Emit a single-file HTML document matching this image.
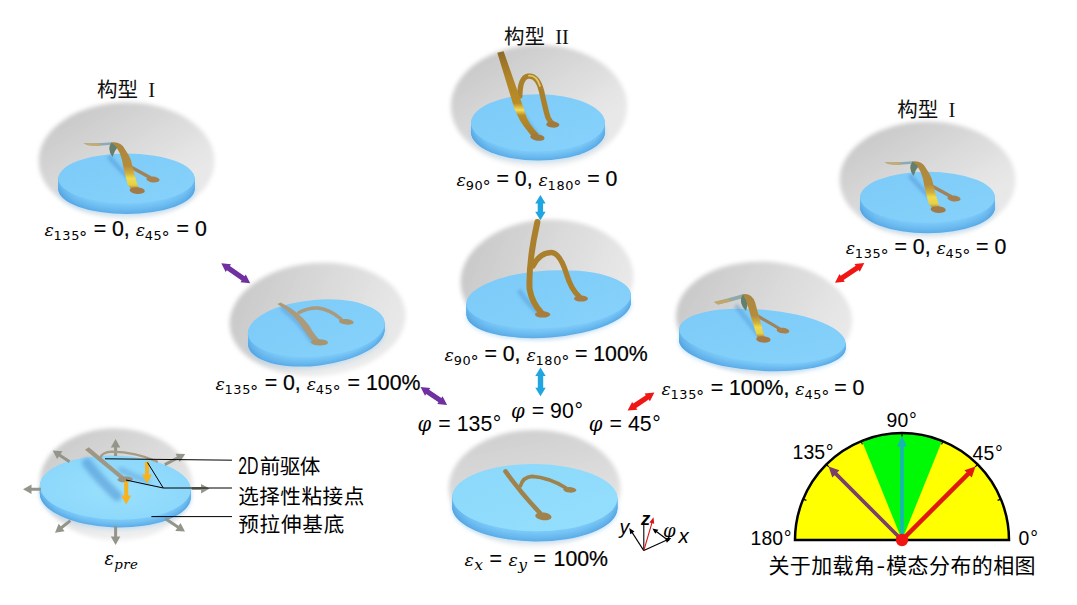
<!DOCTYPE html>
<html lang="zh">
<head>
<meta charset="utf-8">
<title>构型相图</title>
<style>
html,body{margin:0;padding:0;background:#fff;}
body{width:1077px;height:605px;overflow:hidden;}
svg{display:block;}
</style>
</head>
<body>
<svg width="1077" height="605" viewBox="0 0 1077 605">
<rect width="1077" height="605" fill="#fff"/>

<defs>
  <filter id="soft" x="-20%" y="-20%" width="140%" height="140%"><feGaussianBlur stdDeviation="1.9"/></filter>
  <filter id="b2" x="-40%" y="-40%" width="180%" height="180%"><feGaussianBlur stdDeviation="2.2"/></filter>
  <filter id="b1" x="-30%" y="-30%" width="160%" height="160%"><feGaussianBlur stdDeviation="1.5"/></filter>
  <filter id="b05" x="-30%" y="-30%" width="160%" height="160%"><feGaussianBlur stdDeviation="0.45"/></filter>
  <linearGradient id="gbg" x1="0" y1="0" x2="0.7" y2="0.78">
    <stop offset="0" stop-color="#c2c2c2"/><stop offset="0.5" stop-color="#d6d6d6"/><stop offset="0.85" stop-color="#e4e4e4"/><stop offset="1" stop-color="#e8e8e8"/>
  </linearGradient>
  <linearGradient id="gbgH" x1="0" y1="0.3" x2="0.95" y2="0.6">
    <stop offset="0" stop-color="#c8c8c8"/><stop offset="0.5" stop-color="#d9d9d9"/><stop offset="0.85" stop-color="#e4e4e4"/><stop offset="1" stop-color="#e8e8e8"/>
  </linearGradient>
  <linearGradient id="gbgV" x1="0.2" y1="0" x2="0.45" y2="0.9">
    <stop offset="0" stop-color="#cecece"/><stop offset="0.5" stop-color="#dadada"/><stop offset="1" stop-color="#e8e8e8"/>
  </linearGradient>
  <linearGradient id="gbgL" x1="0" y1="0" x2="0.8" y2="0.8">
    <stop offset="0" stop-color="#c6c6c6"/><stop offset="0.5" stop-color="#d8d8d8"/><stop offset="1" stop-color="#e8e8e8"/>
  </linearGradient>
  <linearGradient id="gfade" x1="0" y1="0" x2="0" y2="1">
    <stop offset="0" stop-color="#fff" stop-opacity="0"/><stop offset="0.75" stop-color="#fff" stop-opacity="0"/><stop offset="0.92" stop-color="#fff" stop-opacity="0.25"/><stop offset="1" stop-color="#fff" stop-opacity="0.5"/>
  </linearGradient>
  <radialGradient id="vig" cx="0.55" cy="0.55" r="0.5">
    <stop offset="0" stop-color="#000" stop-opacity="0"/><stop offset="0.8" stop-color="#000" stop-opacity="0"/><stop offset="1" stop-color="#000" stop-opacity="0.02"/>
  </radialGradient>
  <linearGradient id="sideshade" x1="0" y1="0" x2="1" y2="0">
    <stop offset="0" stop-color="#3f8fd6" stop-opacity="0.35"/><stop offset="0.12" stop-color="#3f8fd6" stop-opacity="0.1"/><stop offset="0.3" stop-color="#3f8fd6" stop-opacity="0"/><stop offset="0.75" stop-color="#3f8fd6" stop-opacity="0"/><stop offset="0.93" stop-color="#3f8fd6" stop-opacity="0.1"/><stop offset="1" stop-color="#3f8fd6" stop-opacity="0.3"/>
  </linearGradient>
  <linearGradient id="top" x1="0" y1="0" x2="1" y2="1">
    <stop offset="0" stop-color="#7ccaf8"/><stop offset="1" stop-color="#86d2fb"/>
  </linearGradient>
  <linearGradient id="top2" x1="0" y1="0" x2="1" y2="1">
    <stop offset="0" stop-color="#8ad8fb"/><stop offset="1" stop-color="#96dffd"/>
  </linearGradient>
  <radialGradient id="top3" cx="0.5" cy="0.55" r="0.6">
    <stop offset="0" stop-color="#9ae0fd"/><stop offset="1" stop-color="#8ad6fb"/>
  </radialGradient>
  <linearGradient id="gold" x1="0" y1="0" x2="0" y2="1">
    <stop offset="0" stop-color="#a98642"/><stop offset="0.5" stop-color="#b48c3a"/><stop offset="0.66" stop-color="#d2b040"/><stop offset="0.76" stop-color="#eedc4c"/><stop offset="0.9" stop-color="#e6cf48"/><stop offset="1" stop-color="#a07a40"/>
  </linearGradient>
  <linearGradient id="gold2" x1="0" y1="0" x2="0" y2="1">
    <stop offset="0" stop-color="#8e6a28"/><stop offset="0.3" stop-color="#b08428"/><stop offset="0.6" stop-color="#b98c26"/><stop offset="0.68" stop-color="#f5dd55"/><stop offset="0.74" stop-color="#b98c26"/><stop offset="1" stop-color="#a37a2a"/>
  </linearGradient>
</defs>

<g transform="translate(0 0)">
<g filter="url(#soft)"><g><ellipse cx="126.6" cy="161" rx="87.9" ry="58.5" fill="url(#gbg)"/><ellipse cx="126.6" cy="161" rx="87.9" ry="58.5" fill="url(#gfade)"/></g></g>
<g>
<ellipse cx="126.5" cy="190.20" rx="68.7" ry="25.5" fill="#9fd2f5" fill-opacity="0.55" filter="url(#b2)" transform="rotate(0.00 126.5 189.00)"/>
<ellipse cx="126.5" cy="189.00" rx="68.2" ry="25" fill="#5cace8" transform="rotate(0.00 126.5 189.00)"/>
<ellipse cx="126.5" cy="188.25" rx="68.2" ry="25" fill="#60b0ea" transform="rotate(0.00 126.5 188.25)"/>
<ellipse cx="126.5" cy="187.50" rx="68.2" ry="25" fill="#63b3ec" transform="rotate(0.00 126.5 187.50)"/>
<ellipse cx="126.5" cy="186.75" rx="68.2" ry="25" fill="#66b5ed" transform="rotate(0.00 126.5 186.75)"/>
<ellipse cx="126.5" cy="186.00" rx="68.2" ry="25" fill="#68b8ee" transform="rotate(0.00 126.5 186.00)"/>
<ellipse cx="126.5" cy="185.25" rx="68.2" ry="25" fill="#6bbaef" transform="rotate(0.00 126.5 185.25)"/>
<ellipse cx="126.5" cy="184.50" rx="68.2" ry="25" fill="#6dbcf1" transform="rotate(0.00 126.5 184.50)"/>
<ellipse cx="126.5" cy="183.75" rx="68.2" ry="25" fill="#70bef2" transform="rotate(0.00 126.5 183.75)"/>
<ellipse cx="126.5" cy="183.00" rx="68.2" ry="25" fill="#72c0f3" transform="rotate(0.00 126.5 183.00)"/>
<ellipse cx="126.5" cy="182.25" rx="68.2" ry="25" fill="#74c2f4" transform="rotate(0.00 126.5 182.25)"/>
<ellipse cx="126.5" cy="181.50" rx="68.2" ry="25" fill="#76c4f5" transform="rotate(0.00 126.5 181.50)"/>
<ellipse cx="126.5" cy="180.75" rx="68.2" ry="25" fill="#78c6f6" transform="rotate(0.00 126.5 180.75)"/>
<ellipse cx="126.5" cy="180.00" rx="68.2" ry="25" fill="#7ac8f7" transform="rotate(0.00 126.5 180.00)"/>
<ellipse cx="126.5" cy="179.25" rx="68.2" ry="25" fill="#7ccaf8" transform="rotate(0.00 126.5 179.25)"/>
<polygon points="58.3,178.5 58.3,189.0 58.6,191.2 59.3,193.3 60.6,195.5 62.4,197.6 64.7,199.6 67.4,201.5 70.6,203.3 74.3,205.1 78.3,206.7 82.7,208.2 87.4,209.5 92.4,210.7 97.7,211.7 103.2,212.5 108.8,213.1 114.7,213.6 120.6,213.9 126.5,214.0 132.4,213.9 138.3,213.6 144.2,213.1 149.8,212.5 155.3,211.7 160.6,210.7 165.6,209.5 170.3,208.2 174.7,206.7 178.7,205.1 182.4,203.3 185.6,201.5 188.3,199.6 190.6,197.6 192.4,195.5 193.7,193.3 194.4,191.2 194.7,189.0 194.7,178.5" fill="url(#sideshade)"/>
<ellipse cx="126.5" cy="178.5" rx="68.2" ry="25" fill="url(#top)"/>
</g>
<path d="M110,158 Q120,170 131,180" stroke="#4a8fd0" stroke-opacity="0.45" stroke-width="5" fill="none" stroke-linecap="round" filter="url(#b1)"/>
<path d="M129,166 Q140,172 150,177.5" fill="none" stroke="#a08358" stroke-width="3.4" stroke-linecap="round" stroke-linejoin="round" />
<ellipse cx="153" cy="179.5" rx="6.6" ry="3" fill="#a6804e" transform="rotate(6 153 179.5)"/>
<path d="M83.5,143 Q98,143.6 112,142.2 L114,144.6 Q98,146.6 87,145 Z" fill="#8da9b4"/>
<path d="M83.5,143 Q92,143.8 100,143.5 L100,146 Q92,146.2 87,145 Z" fill="#c8ab6c"/>
<path d="M111.5,142.6 Q106.5,149 112.5,157 Q114,151 118.5,146 Z" fill="#627f70"/>
<path d="M111.5,142.4 Q121,141.4 124.8,149 Q129,155 130.9,160 L134.1,173 L137.4,184.7 L138.8,188 L131.5,189.6 L127.8,184.7 L124.6,173 L122,160 Q120,152 116,146.5 Z" fill="url(#gold)"/>
<ellipse cx="137.2" cy="190.6" rx="7.6" ry="3.4" fill="#a27a48" transform="rotate(4 137.2 190.6)"/>
</g>
<text x="97" y="97" font-family="'Liberation Sans','Noto Sans CJK SC',sans-serif" font-size="20.5" fill="#111" xml:space="preserve">构型 <tspan font-family="'Liberation Serif','Noto Serif CJK SC',serif" font-size="20.5" dx="4.5">I</tspan></text>
<text x="44.4" y="236.2" font-family="'Liberation Sans','Noto Sans CJK SC',sans-serif" font-size="21.3" fill="#000" stroke="#000" stroke-width="0.22" xml:space="preserve"><tspan font-family="'DejaVu Serif','Liberation Serif',serif" font-style="italic" font-size="17.4" stroke="none" dx="0">ε</tspan><tspan font-family="'DejaVu Sans','Liberation Sans',sans-serif" font-size="12.9" letter-spacing="0.65" stroke="none" dx="-0.3" dy="4.2">135</tspan><tspan font-family="'DejaVu Sans','Liberation Sans',sans-serif" font-size="16.5" stroke="none" dx="-0.9" dy="2.6">°</tspan><tspan dy="-6.8" dx="0.4"> = 0, </tspan><tspan font-family="'DejaVu Serif','Liberation Serif',serif" font-style="italic" font-size="17.4" stroke="none" dx="0">ε</tspan><tspan font-family="'DejaVu Sans','Liberation Sans',sans-serif" font-size="12.9" letter-spacing="0.65" stroke="none" dx="-0.3" dy="4.2">45</tspan><tspan font-family="'DejaVu Sans','Liberation Sans',sans-serif" font-size="16.5" stroke="none" dx="-0.9" dy="2.6">°</tspan><tspan dy="-6.8" dx="0.9"> = 0</tspan></text>
<g transform="translate(801 19)">
<g filter="url(#soft)"><g><ellipse cx="126.6" cy="161" rx="87.9" ry="58.5" fill="url(#gbg)"/><ellipse cx="126.6" cy="161" rx="87.9" ry="58.5" fill="url(#gfade)"/></g></g>
<g>
<ellipse cx="126.5" cy="189.90" rx="67.9" ry="26.0" fill="#9fd2f5" fill-opacity="0.55" filter="url(#b2)" transform="rotate(0.00 126.5 188.70)"/>
<ellipse cx="126.5" cy="188.70" rx="67.4" ry="25.5" fill="#5cace8" transform="rotate(0.00 126.5 188.70)"/>
<ellipse cx="126.5" cy="187.95" rx="67.4" ry="25.5" fill="#60b0ea" transform="rotate(0.00 126.5 187.95)"/>
<ellipse cx="126.5" cy="187.20" rx="67.4" ry="25.5" fill="#63b3ec" transform="rotate(0.00 126.5 187.20)"/>
<ellipse cx="126.5" cy="186.45" rx="67.4" ry="25.5" fill="#66b5ed" transform="rotate(0.00 126.5 186.45)"/>
<ellipse cx="126.5" cy="185.70" rx="67.4" ry="25.5" fill="#68b8ee" transform="rotate(0.00 126.5 185.70)"/>
<ellipse cx="126.5" cy="184.95" rx="67.4" ry="25.5" fill="#6bbaef" transform="rotate(0.00 126.5 184.95)"/>
<ellipse cx="126.5" cy="184.20" rx="67.4" ry="25.5" fill="#6dbcf1" transform="rotate(0.00 126.5 184.20)"/>
<ellipse cx="126.5" cy="183.45" rx="67.4" ry="25.5" fill="#70bef2" transform="rotate(0.00 126.5 183.45)"/>
<ellipse cx="126.5" cy="182.70" rx="67.4" ry="25.5" fill="#72c0f3" transform="rotate(0.00 126.5 182.70)"/>
<ellipse cx="126.5" cy="181.95" rx="67.4" ry="25.5" fill="#74c2f4" transform="rotate(0.00 126.5 181.95)"/>
<ellipse cx="126.5" cy="181.20" rx="67.4" ry="25.5" fill="#76c4f5" transform="rotate(0.00 126.5 181.20)"/>
<ellipse cx="126.5" cy="180.45" rx="67.4" ry="25.5" fill="#78c6f6" transform="rotate(0.00 126.5 180.45)"/>
<ellipse cx="126.5" cy="179.70" rx="67.4" ry="25.5" fill="#7ac8f7" transform="rotate(0.00 126.5 179.70)"/>
<ellipse cx="126.5" cy="178.95" rx="67.4" ry="25.5" fill="#7ccaf8" transform="rotate(0.00 126.5 178.95)"/>
<polygon points="59.1,178.2 59.1,188.7 59.4,190.9 60.1,193.1 61.4,195.3 63.2,197.4 65.4,199.5 68.1,201.4 71.3,203.3 74.9,205.1 78.8,206.7 83.2,208.2 87.8,209.6 92.8,210.8 98.0,211.8 103.4,212.7 109.1,213.3 114.8,213.8 120.6,214.1 126.5,214.2 132.4,214.1 138.2,213.8 143.9,213.3 149.6,212.7 155.0,211.8 160.2,210.8 165.2,209.6 169.8,208.2 174.2,206.7 178.1,205.1 181.7,203.3 184.9,201.4 187.6,199.5 189.8,197.4 191.6,195.3 192.9,193.1 193.6,190.9 193.9,188.7 193.9,178.2" fill="url(#sideshade)"/>
<ellipse cx="126.5" cy="178.2" rx="67.4" ry="25.5" fill="url(#top)"/>
</g>
<path d="M110,158 Q120,170 131,180" stroke="#4a8fd0" stroke-opacity="0.45" stroke-width="5" fill="none" stroke-linecap="round" filter="url(#b1)"/>
<path d="M129,166 Q140,172 150,177.5" fill="none" stroke="#a08358" stroke-width="3.4" stroke-linecap="round" stroke-linejoin="round" />
<ellipse cx="153" cy="179.5" rx="6.6" ry="3" fill="#a6804e" transform="rotate(6 153 179.5)"/>
<path d="M83.5,143 Q98,143.6 112,142.2 L114,144.6 Q98,146.6 87,145 Z" fill="#8da9b4"/>
<path d="M83.5,143 Q92,143.8 100,143.5 L100,146 Q92,146.2 87,145 Z" fill="#c8ab6c"/>
<path d="M111.5,142.6 Q106.5,149 112.5,157 Q114,151 118.5,146 Z" fill="#627f70"/>
<path d="M111.5,142.4 Q121,141.4 124.8,149 Q129,155 130.9,160 L134.1,173 L137.4,184.7 L138.8,188 L131.5,189.6 L127.8,184.7 L124.6,173 L122,160 Q120,152 116,146.5 Z" fill="url(#gold)"/>
<ellipse cx="137.2" cy="190.6" rx="7.6" ry="3.4" fill="#a27a48" transform="rotate(4 137.2 190.6)"/>
</g>
<text x="897.2" y="116.8" font-family="'Liberation Sans','Noto Sans CJK SC',sans-serif" font-size="20.5" fill="#111" xml:space="preserve">构型 <tspan font-family="'Liberation Serif','Noto Serif CJK SC',serif" font-size="20.5" dx="4.5">I</tspan></text>
<text x="845.8" y="254.2" font-family="'Liberation Sans','Noto Sans CJK SC',sans-serif" font-size="21.3" fill="#000" stroke="#000" stroke-width="0.22" xml:space="preserve"><tspan font-family="'DejaVu Serif','Liberation Serif',serif" font-style="italic" font-size="17.4" stroke="none" dx="0">ε</tspan><tspan font-family="'DejaVu Sans','Liberation Sans',sans-serif" font-size="12.9" letter-spacing="0.65" stroke="none" dx="-0.3" dy="4.2">135</tspan><tspan font-family="'DejaVu Sans','Liberation Sans',sans-serif" font-size="16.5" stroke="none" dx="-0.9" dy="2.6">°</tspan><tspan dy="-6.8" dx="-0.19999999999999996"> = 0, </tspan><tspan font-family="'DejaVu Serif','Liberation Serif',serif" font-style="italic" font-size="17.4" stroke="none" dx="0">ε</tspan><tspan font-family="'DejaVu Sans','Liberation Sans',sans-serif" font-size="12.9" letter-spacing="0.65" stroke="none" dx="-0.3" dy="4.2">45</tspan><tspan font-family="'DejaVu Sans','Liberation Sans',sans-serif" font-size="16.5" stroke="none" dx="-0.9" dy="2.6">°</tspan><tspan dy="-6.8" dx="-0.4"> = 0</tspan></text>
<g filter="url(#soft)"><g><ellipse cx="539" cy="106.2" rx="88.1" ry="61.3" fill="url(#gbg)"/><ellipse cx="539" cy="106.2" rx="88.1" ry="61.3" fill="url(#gfade)"/></g></g>
<g>
<ellipse cx="538" cy="133.20" rx="67.5" ry="29.0" fill="#9fd2f5" fill-opacity="0.55" filter="url(#b2)" transform="rotate(0.00 538 132.00)"/>
<ellipse cx="538" cy="132.00" rx="67" ry="28.5" fill="#5cace8" transform="rotate(0.00 538 132.00)"/>
<ellipse cx="538" cy="131.23" rx="67" ry="28.5" fill="#61b0ea" transform="rotate(0.00 538 131.23)"/>
<ellipse cx="538" cy="130.47" rx="67" ry="28.5" fill="#64b4ec" transform="rotate(0.00 538 130.47)"/>
<ellipse cx="538" cy="129.70" rx="67" ry="28.5" fill="#67b7ee" transform="rotate(0.00 538 129.70)"/>
<ellipse cx="538" cy="128.93" rx="67" ry="28.5" fill="#6ab9ef" transform="rotate(0.00 538 128.93)"/>
<ellipse cx="538" cy="128.17" rx="67" ry="28.5" fill="#6dbcf1" transform="rotate(0.00 538 128.17)"/>
<ellipse cx="538" cy="127.40" rx="67" ry="28.5" fill="#70bef2" transform="rotate(0.00 538 127.40)"/>
<ellipse cx="538" cy="126.63" rx="67" ry="28.5" fill="#72c1f3" transform="rotate(0.00 538 126.63)"/>
<ellipse cx="538" cy="125.87" rx="67" ry="28.5" fill="#75c3f4" transform="rotate(0.00 538 125.87)"/>
<ellipse cx="538" cy="125.10" rx="67" ry="28.5" fill="#77c6f6" transform="rotate(0.00 538 125.10)"/>
<ellipse cx="538" cy="124.33" rx="67" ry="28.5" fill="#7ac8f7" transform="rotate(0.00 538 124.33)"/>
<ellipse cx="538" cy="123.57" rx="67" ry="28.5" fill="#7ccaf8" transform="rotate(0.00 538 123.57)"/>
<polygon points="471.0,122.8 471.0,132.0 471.3,134.5 472.0,136.9 473.3,139.4 475.0,141.7 477.3,144.0 480.0,146.2 483.1,148.3 486.7,150.3 490.6,152.2 494.9,153.8 499.6,155.3 504.5,156.7 509.7,157.8 515.1,158.8 520.7,159.5 526.4,160.1 532.2,160.4 538.0,160.5 543.8,160.4 549.6,160.1 555.3,159.5 560.9,158.8 566.3,157.8 571.5,156.7 576.4,155.3 581.1,153.8 585.4,152.2 589.3,150.3 592.9,148.3 596.0,146.2 598.7,144.0 601.0,141.7 602.7,139.4 604.0,136.9 604.7,134.5 605.0,132.0 605.0,122.8" fill="url(#sideshade)"/>
<ellipse cx="538" cy="122.8" rx="67" ry="28.5" fill="url(#top)"/>
</g>
<path d="M521,112 Q529,126 538,136" stroke="#4a8fd0" stroke-opacity="0.4" stroke-width="5" fill="none" stroke-linecap="round" filter="url(#b1)"/>
<path d="M519.8,96 C520,84 522.5,77.2 528,76.2 C535,75.2 539,81 541.5,91 C544,102 546,112 548,117.5 C549.5,121 551,122.6 553,124" fill="none" stroke="#a9802c" stroke-width="5.4" stroke-linecap="round" stroke-linejoin="round" />
<path d="M529,75.6 C534.5,75.2 538,79.5 540,86" fill="none" stroke="#e0c868" stroke-width="1.8" stroke-linecap="round" stroke-linejoin="round" />
<ellipse cx="552.8" cy="124.6" rx="6.6" ry="3" fill="#a07a3c" transform="rotate(4 552.8 124.6)"/>
<path d="M497.3,52.7 L503.6,51.3 L523.6,108.2 L526.6,117.4 Q531,126.6 538.6,134 L533,137.8 Q525,128.4 520,120.6 L514.5,109.1 Z" fill="url(#gold2)"/>
<ellipse cx="537.4" cy="137.4" rx="7.2" ry="3.3" fill="#a07a3c" transform="rotate(8 537.4 137.4)"/>
<text x="504" y="44.3" font-family="'Liberation Sans','Noto Sans CJK SC',sans-serif" font-size="20.5" fill="#111" xml:space="preserve">构型 <tspan font-family="'Liberation Serif','Noto Serif CJK SC',serif" font-size="20.5" dx="4.5">II</tspan></text>
<text x="456.6" y="185.5" font-family="'Liberation Sans','Noto Sans CJK SC',sans-serif" font-size="21.3" fill="#000" stroke="#000" stroke-width="0.22" xml:space="preserve"><tspan font-family="'DejaVu Serif','Liberation Serif',serif" font-style="italic" font-size="17.4" stroke="none" dx="0">ε</tspan><tspan font-family="'DejaVu Sans','Liberation Sans',sans-serif" font-size="12.9" letter-spacing="0.65" stroke="none" dx="-0.3" dy="4.2">90</tspan><tspan font-family="'DejaVu Sans','Liberation Sans',sans-serif" font-size="16.5" stroke="none" dx="-0.9" dy="2.6">°</tspan><tspan dy="-6.8" dx="-0.09999999999999998"> = 0, </tspan><tspan font-family="'DejaVu Serif','Liberation Serif',serif" font-style="italic" font-size="17.4" stroke="none" dx="0">ε</tspan><tspan font-family="'DejaVu Sans','Liberation Sans',sans-serif" font-size="12.9" letter-spacing="0.65" stroke="none" dx="-0.3" dy="4.2">180</tspan><tspan font-family="'DejaVu Sans','Liberation Sans',sans-serif" font-size="16.5" stroke="none" dx="-0.9" dy="2.6">°</tspan><tspan dy="-6.8" dx="-0.19999999999999996"> = 0</tspan></text>
<g filter="url(#soft)"><g transform="rotate(-4.5 317.6 319.4)"><ellipse cx="317.6" cy="319.4" rx="88.1" ry="56.5" fill="url(#gbgH)"/><ellipse cx="317.6" cy="319.4" rx="88.1" ry="56.5" fill="url(#gfade)"/></g></g>
<g>
<ellipse cx="316.3" cy="338.40" rx="69.1" ry="28.9" fill="#9fd2f5" fill-opacity="0.55" filter="url(#b2)" transform="rotate(-6.89 316.3 337.20)"/>
<ellipse cx="316.3" cy="337.20" rx="68.6" ry="28.4" fill="#5cace8" transform="rotate(-6.89 316.3 337.20)"/>
<ellipse cx="316.3" cy="336.45" rx="68.6" ry="28.4" fill="#61b0ea" transform="rotate(-6.71 316.3 336.45)"/>
<ellipse cx="316.3" cy="335.70" rx="68.6" ry="28.4" fill="#64b4ec" transform="rotate(-6.54 316.3 335.70)"/>
<ellipse cx="316.3" cy="334.95" rx="68.6" ry="28.4" fill="#67b7ee" transform="rotate(-6.37 316.3 334.95)"/>
<ellipse cx="316.3" cy="334.20" rx="68.6" ry="28.4" fill="#6ab9ef" transform="rotate(-6.19 316.3 334.20)"/>
<ellipse cx="316.3" cy="333.45" rx="68.6" ry="28.4" fill="#6dbcf1" transform="rotate(-6.02 316.3 333.45)"/>
<ellipse cx="316.3" cy="332.70" rx="68.6" ry="28.4" fill="#70bef2" transform="rotate(-5.84 316.3 332.70)"/>
<ellipse cx="316.3" cy="331.95" rx="68.6" ry="28.4" fill="#72c1f3" transform="rotate(-5.67 316.3 331.95)"/>
<ellipse cx="316.3" cy="331.20" rx="68.6" ry="28.4" fill="#75c3f4" transform="rotate(-5.50 316.3 331.20)"/>
<ellipse cx="316.3" cy="330.45" rx="68.6" ry="28.4" fill="#77c6f6" transform="rotate(-5.32 316.3 330.45)"/>
<ellipse cx="316.3" cy="329.70" rx="68.6" ry="28.4" fill="#7ac8f7" transform="rotate(-5.15 316.3 329.70)"/>
<ellipse cx="316.3" cy="328.95" rx="68.6" ry="28.4" fill="#7ccaf8" transform="rotate(-4.97 316.3 328.95)"/>
<polygon points="247.9,333.9 248.2,345.4 248.8,347.9 249.8,350.2 251.4,352.4 253.5,354.6 256.0,356.6 259.0,358.4 262.5,360.1 266.3,361.6 270.6,363.0 275.1,364.1 280.0,365.0 285.2,365.7 290.6,366.2 296.2,366.5 302.0,366.6 307.8,366.4 313.8,366.0 319.7,365.4 325.6,364.6 331.5,363.5 337.2,362.3 342.8,360.9 348.2,359.3 353.3,357.5 358.2,355.6 362.7,353.5 366.9,351.3 370.7,349.0 374.0,346.6 377.0,344.2 379.5,341.7 381.5,339.1 383.0,336.6 384.0,334.0 384.4,331.5 384.4,329.0 384.7,322.5" fill="url(#sideshade)"/>
<ellipse cx="316.3" cy="328.2" rx="68.6" ry="28.4" fill="url(#top)" transform="rotate(-4.8 316.3 328.2)"/>
</g>
<path d="M283,309 Q300,322 312,341" stroke="#4a8fd0" stroke-opacity="0.4" stroke-width="5" fill="none" stroke-linecap="round" filter="url(#b1)"/>
<path d="M299,312.5 Q308,307.6 318,308 Q330,309.5 341,319" fill="none" stroke="#aa9a7e" stroke-width="3.6" stroke-linecap="round" stroke-linejoin="round" />
<ellipse cx="346.4" cy="321.8" rx="7.4" ry="2.8" fill="#a8946e" transform="rotate(6 346.4 321.8)"/>
<path d="M277.4,304 L280.6,302.4 Q300,312 309.5,326 Q314,335 321,341 L314.6,343.5 Q308,337 302.5,328 Q295,315 277.4,304 Z" fill="#ab9a7c"/>
<ellipse cx="319.4" cy="342.4" rx="8.6" ry="3.2" fill="#a8946e" transform="rotate(2 319.4 342.4)"/>
<text x="215.4" y="389.8" font-family="'Liberation Sans','Noto Sans CJK SC',sans-serif" font-size="21.3" fill="#000" stroke="#000" stroke-width="0.22" xml:space="preserve"><tspan font-family="'DejaVu Serif','Liberation Serif',serif" font-style="italic" font-size="17.4" stroke="none" dx="0">ε</tspan><tspan font-family="'DejaVu Sans','Liberation Sans',sans-serif" font-size="12.9" letter-spacing="0.65" stroke="none" dx="-0.3" dy="4.2">135</tspan><tspan font-family="'DejaVu Sans','Liberation Sans',sans-serif" font-size="16.5" stroke="none" dx="-0.9" dy="2.6">°</tspan><tspan dy="-6.8" dx="0.4"> = 0, </tspan><tspan font-family="'DejaVu Serif','Liberation Serif',serif" font-style="italic" font-size="17.4" stroke="none" dx="0">ε</tspan><tspan font-family="'DejaVu Sans','Liberation Sans',sans-serif" font-size="12.9" letter-spacing="0.65" stroke="none" dx="-0.3" dy="4.2">45</tspan><tspan font-family="'DejaVu Sans','Liberation Sans',sans-serif" font-size="16.5" stroke="none" dx="-0.9" dy="2.6">°</tspan><tspan dy="-6.8" dx="0.9"> = 100%</tspan></text>
<g filter="url(#soft)"><g transform="rotate(-3.5 547 279.5)"><ellipse cx="547" cy="279.5" rx="86.5" ry="60.0" fill="url(#gbgH)"/><ellipse cx="547" cy="279.5" rx="86.5" ry="60.0" fill="url(#gfade)"/></g></g>
<g>
<ellipse cx="548.6" cy="309.90" rx="82.9" ry="29.3" fill="#9fd2f5" fill-opacity="0.55" filter="url(#b2)" transform="rotate(-4.51 548.6 308.70)"/>
<ellipse cx="548.6" cy="308.70" rx="82.4" ry="28.8" fill="#5cace8" transform="rotate(-4.51 548.6 308.70)"/>
<ellipse cx="548.6" cy="307.92" rx="82.4" ry="28.8" fill="#61b0ea" transform="rotate(-4.42 548.6 307.92)"/>
<ellipse cx="548.6" cy="307.13" rx="82.4" ry="28.8" fill="#64b4ec" transform="rotate(-4.33 548.6 307.13)"/>
<ellipse cx="548.6" cy="306.35" rx="82.4" ry="28.8" fill="#67b7ee" transform="rotate(-4.23 548.6 306.35)"/>
<ellipse cx="548.6" cy="305.57" rx="82.4" ry="28.8" fill="#6ab9ef" transform="rotate(-4.14 548.6 305.57)"/>
<ellipse cx="548.6" cy="304.78" rx="82.4" ry="28.8" fill="#6dbcf1" transform="rotate(-4.05 548.6 304.78)"/>
<ellipse cx="548.6" cy="304.00" rx="82.4" ry="28.8" fill="#70bef2" transform="rotate(-3.96 548.6 304.00)"/>
<ellipse cx="548.6" cy="303.22" rx="82.4" ry="28.8" fill="#72c1f3" transform="rotate(-3.86 548.6 303.22)"/>
<ellipse cx="548.6" cy="302.43" rx="82.4" ry="28.8" fill="#75c3f4" transform="rotate(-3.77 548.6 302.43)"/>
<ellipse cx="548.6" cy="301.65" rx="82.4" ry="28.8" fill="#77c6f6" transform="rotate(-3.68 548.6 301.65)"/>
<ellipse cx="548.6" cy="300.87" rx="82.4" ry="28.8" fill="#7ac8f7" transform="rotate(-3.59 548.6 300.87)"/>
<ellipse cx="548.6" cy="300.08" rx="82.4" ry="28.8" fill="#7ccaf8" transform="rotate(-3.49 548.6 300.08)"/>
<polygon points="466.3,304.2 466.5,315.2 467.0,317.7 468.1,320.1 469.8,322.4 472.2,324.6 475.1,326.7 478.6,328.7 482.6,330.5 487.1,332.1 492.1,333.6 497.5,334.9 503.3,335.9 509.5,336.8 515.9,337.5 522.6,337.9 529.5,338.1 536.6,338.1 543.7,337.9 550.9,337.4 558.0,336.7 565.1,335.8 572.0,334.8 578.8,333.5 585.4,332.0 591.6,330.3 597.6,328.5 603.1,326.5 608.3,324.4 613.0,322.2 617.2,319.9 620.9,317.4 624.0,315.0 626.6,312.4 628.5,309.9 629.9,307.3 630.6,304.7 630.7,302.2 630.9,294.4" fill="url(#sideshade)"/>
<ellipse cx="548.6" cy="299.3" rx="82.4" ry="28.8" fill="url(#top)" transform="rotate(-3.4 548.6 299.3)"/>
</g>
<path d="M520,292 Q528,304 539,313" stroke="#4a8fd0" stroke-opacity="0.4" stroke-width="5" fill="none" stroke-linecap="round" filter="url(#b1)"/>
<path d="M533,266 Q540,252 552.5,252.6 Q560.5,254.5 566.5,274 Q571,289 579,296.5" fill="none" stroke="#aa802c" stroke-width="5.4" stroke-linecap="round" stroke-linejoin="round" />
<ellipse cx="581" cy="298.6" rx="7" ry="3" fill="#a87c40" transform="rotate(0 581 298.6)"/>
<path d="M537.4,222 Q528.4,262 529.6,289 Q532,303 541.6,313" fill="none" stroke="#aa802c" stroke-width="6" stroke-linecap="round" stroke-linejoin="round" />
<ellipse cx="542.6" cy="314.4" rx="7.6" ry="3.2" fill="#a87c40" transform="rotate(0 542.6 314.4)"/>
<text x="444.6" y="360.6" font-family="'Liberation Sans','Noto Sans CJK SC',sans-serif" font-size="21.3" fill="#000" stroke="#000" stroke-width="0.22" xml:space="preserve"><tspan font-family="'DejaVu Serif','Liberation Serif',serif" font-style="italic" font-size="17.4" stroke="none" dx="0">ε</tspan><tspan font-family="'DejaVu Sans','Liberation Sans',sans-serif" font-size="12.9" letter-spacing="0.65" stroke="none" dx="-0.3" dy="4.2">90</tspan><tspan font-family="'DejaVu Sans','Liberation Sans',sans-serif" font-size="16.5" stroke="none" dx="-0.9" dy="2.6">°</tspan><tspan dy="-6.8" dx="-0.19999999999999996"> = 0, </tspan><tspan font-family="'DejaVu Serif','Liberation Serif',serif" font-style="italic" font-size="17.4" stroke="none" dx="0">ε</tspan><tspan font-family="'DejaVu Sans','Liberation Sans',sans-serif" font-size="12.9" letter-spacing="0.65" stroke="none" dx="-0.3" dy="4.2">180</tspan><tspan font-family="'DejaVu Sans','Liberation Sans',sans-serif" font-size="16.5" stroke="none" dx="-0.9" dy="2.6">°</tspan><tspan dy="-6.8" dx="-0.4"> = 100%</tspan></text>
<g filter="url(#soft)"><g transform="rotate(2.5 764 318.6)"><ellipse cx="764" cy="318.6" rx="88.1" ry="57.1" fill="url(#gbgH)"/><ellipse cx="764" cy="318.6" rx="88.1" ry="57.1" fill="url(#gfade)"/></g></g>
<g>
<ellipse cx="762.3" cy="345.70" rx="83.9" ry="26.9" fill="#9fd2f5" fill-opacity="0.55" filter="url(#b2)" transform="rotate(3.14 762.3 344.50)"/>
<ellipse cx="762.3" cy="344.50" rx="83.4" ry="26.4" fill="#5cace8" transform="rotate(3.14 762.3 344.50)"/>
<ellipse cx="762.3" cy="343.73" rx="83.4" ry="26.4" fill="#61b1eb" transform="rotate(3.33 762.3 343.73)"/>
<ellipse cx="762.3" cy="342.95" rx="83.4" ry="26.4" fill="#65b4ec" transform="rotate(3.51 762.3 342.95)"/>
<ellipse cx="762.3" cy="342.18" rx="83.4" ry="26.4" fill="#68b7ee" transform="rotate(3.70 762.3 342.18)"/>
<ellipse cx="762.3" cy="341.41" rx="83.4" ry="26.4" fill="#6bbaf0" transform="rotate(3.89 762.3 341.41)"/>
<ellipse cx="762.3" cy="340.64" rx="83.4" ry="26.4" fill="#6ebdf1" transform="rotate(4.08 762.3 340.64)"/>
<ellipse cx="762.3" cy="339.86" rx="83.4" ry="26.4" fill="#71c0f3" transform="rotate(4.26 762.3 339.86)"/>
<ellipse cx="762.3" cy="339.09" rx="83.4" ry="26.4" fill="#74c3f4" transform="rotate(4.45 762.3 339.09)"/>
<ellipse cx="762.3" cy="338.32" rx="83.4" ry="26.4" fill="#77c5f5" transform="rotate(4.64 762.3 338.32)"/>
<ellipse cx="762.3" cy="337.55" rx="83.4" ry="26.4" fill="#79c8f7" transform="rotate(4.83 762.3 337.55)"/>
<ellipse cx="762.3" cy="336.77" rx="83.4" ry="26.4" fill="#7ccaf8" transform="rotate(5.01 762.3 336.77)"/>
<polygon points="679.2,328.4 679.0,339.9 679.2,342.2 680.0,344.6 681.5,346.9 683.6,349.2 686.2,351.5 689.5,353.7 693.3,355.9 697.6,357.9 702.4,359.9 707.7,361.8 713.4,363.5 719.4,365.0 725.8,366.5 732.5,367.7 739.4,368.8 746.4,369.7 753.6,370.4 760.9,370.9 768.1,371.2 775.3,371.3 782.5,371.1 789.4,370.8 796.2,370.3 802.7,369.6 808.9,368.7 814.7,367.6 820.2,366.4 825.2,364.9 829.7,363.4 833.7,361.6 837.2,359.8 840.1,357.8 842.4,355.7 844.1,353.6 845.1,351.3 845.6,349.1 845.4,343.6" fill="url(#sideshade)"/>
<ellipse cx="762.3" cy="336" rx="83.4" ry="26.4" fill="url(#top)" transform="rotate(5.2 762.3 336)"/>
</g>
<path d="M737,307 Q747,320 758,334" stroke="#4a8fd0" stroke-opacity="0.4" stroke-width="5" fill="none" stroke-linecap="round" filter="url(#b1)"/>
<path d="M752,313 Q765,320 780,329" fill="none" stroke="#a08358" stroke-width="3.2" stroke-linecap="round" stroke-linejoin="round" />
<ellipse cx="783" cy="330.6" rx="6.4" ry="2.8" fill="#a9804a" transform="rotate(8 783 330.6)"/>
<path d="M714,302 Q728,298.4 742.6,294.2 L745,297.4 Q728,302.4 718,304.4 Z" fill="#8fa9a8"/>
<path d="M714,302 Q722,300.4 729,298.8 L730,301.8 Q722,303.6 718,304.4 Z" fill="#c4a766"/>
<path d="M742.5,294.4 Q738,302.6 746,311 Q747.5,303 751,297.5 Z" fill="#627f70"/>
<path d="M742.5,294.2 Q751.4,292.6 755,302 Q760,320 764.4,336.5 L757.4,337.8 Q752.4,322 748.4,308 Q746.5,299.6 742.5,294.2 Z" fill="url(#gold)"/>
<ellipse cx="763.4" cy="339.4" rx="7.2" ry="3.2" fill="#a87a42" transform="rotate(5 763.4 339.4)"/>
<text x="661.4" y="395.2" font-family="'Liberation Sans','Noto Sans CJK SC',sans-serif" font-size="21.3" fill="#000" stroke="#000" stroke-width="0.22" xml:space="preserve"><tspan font-family="'DejaVu Serif','Liberation Serif',serif" font-style="italic" font-size="17.4" stroke="none" dx="0">ε</tspan><tspan font-family="'DejaVu Sans','Liberation Sans',sans-serif" font-size="12.9" letter-spacing="0.65" stroke="none" dx="-0.3" dy="4.2">135</tspan><tspan font-family="'DejaVu Sans','Liberation Sans',sans-serif" font-size="16.5" stroke="none" dx="-0.9" dy="2.6">°</tspan><tspan dy="-6.8" dx="0.4"> = 100%, </tspan><tspan font-family="'DejaVu Serif','Liberation Serif',serif" font-style="italic" font-size="17.4" stroke="none" dx="0">ε</tspan><tspan font-family="'DejaVu Sans','Liberation Sans',sans-serif" font-size="12.9" letter-spacing="0.65" stroke="none" dx="-0.3" dy="4.2">45</tspan><tspan font-family="'DejaVu Sans','Liberation Sans',sans-serif" font-size="16.5" stroke="none" dx="-0.9" dy="2.6">°</tspan><tspan dy="-6.8" dx="-1.1"> = 0</tspan></text>
<g filter="url(#soft)"><g><ellipse cx="534.6" cy="488.6" rx="86.0" ry="58.7" fill="url(#gbgV)"/><ellipse cx="534.6" cy="488.6" rx="86.0" ry="58.7" fill="url(#gfade)"/></g></g>
<g>
<ellipse cx="534.8" cy="509.00" rx="83.1" ry="34.1" fill="#9fd2f5" fill-opacity="0.55" filter="url(#b2)" transform="rotate(0.60 534.8 507.80)"/>
<ellipse cx="534.8" cy="507.80" rx="82.6" ry="33.6" fill="#5cace8" transform="rotate(0.60 534.8 507.80)"/>
<ellipse cx="534.8" cy="507.02" rx="82.6" ry="33.6" fill="#60b0ea" transform="rotate(0.60 534.8 507.02)"/>
<ellipse cx="534.8" cy="506.23" rx="82.6" ry="33.6" fill="#64b3ec" transform="rotate(0.60 534.8 506.23)"/>
<ellipse cx="534.8" cy="505.45" rx="82.6" ry="33.6" fill="#67b6ed" transform="rotate(0.60 534.8 505.45)"/>
<ellipse cx="534.8" cy="504.66" rx="82.6" ry="33.6" fill="#69b8ef" transform="rotate(0.60 534.8 504.66)"/>
<ellipse cx="534.8" cy="503.88" rx="82.6" ry="33.6" fill="#6cbbf0" transform="rotate(0.60 534.8 503.88)"/>
<ellipse cx="534.8" cy="503.09" rx="82.6" ry="33.6" fill="#6ebdf1" transform="rotate(0.60 534.8 503.09)"/>
<ellipse cx="534.8" cy="502.31" rx="82.6" ry="33.6" fill="#71bff2" transform="rotate(0.60 534.8 502.31)"/>
<ellipse cx="534.8" cy="501.52" rx="82.6" ry="33.6" fill="#73c2f4" transform="rotate(0.60 534.8 501.52)"/>
<ellipse cx="534.8" cy="500.74" rx="82.6" ry="33.6" fill="#75c4f5" transform="rotate(0.60 534.8 500.74)"/>
<ellipse cx="534.8" cy="499.95" rx="82.6" ry="33.6" fill="#78c6f6" transform="rotate(0.60 534.8 499.95)"/>
<ellipse cx="534.8" cy="499.17" rx="82.6" ry="33.6" fill="#7ac8f7" transform="rotate(0.60 534.8 499.17)"/>
<ellipse cx="534.8" cy="498.38" rx="82.6" ry="33.6" fill="#7ccaf8" transform="rotate(0.60 534.8 498.38)"/>
<polygon points="452.2,496.7 452.2,506.9 452.5,509.9 453.4,512.8 454.9,515.7 457.1,518.5 459.8,521.2 463.1,523.8 466.9,526.4 471.3,528.7 476.1,530.9 481.4,533.0 487.1,534.8 493.2,536.5 499.6,537.9 506.2,539.1 513.1,540.0 520.1,540.7 527.3,541.2 534.4,541.4 541.6,541.3 548.8,541.0 555.8,540.5 562.7,539.7 569.4,538.6 575.8,537.3 581.9,535.8 587.6,534.1 593.0,532.2 597.8,530.1 602.3,527.8 606.2,525.3 609.5,522.8 612.3,520.1 614.5,517.3 616.1,514.5 617.1,511.6 617.4,508.7 617.4,498.5" fill="url(#sideshade)"/>
<ellipse cx="534.8" cy="497.6" rx="82.6" ry="33.6" fill="url(#top2)" transform="rotate(0.6 534.8 497.6)"/>
</g>
<path d="M520.4,486 Q523,477 532,476.4 Q549,477.5 566,488" fill="none" stroke="#a0834c" stroke-width="3.6" stroke-linecap="round" stroke-linejoin="round" />
<ellipse cx="569.8" cy="489.8" rx="6.6" ry="2.8" fill="#a0834c" transform="rotate(4 569.8 489.8)"/>
<path d="M505.5,471.4 Q521,493 540,513" fill="none" stroke="#a0834c" stroke-width="4.6" stroke-linecap="round" stroke-linejoin="round" />
<ellipse cx="543.4" cy="516.4" rx="8.2" ry="3.8" fill="#a0834c" transform="rotate(6 543.4 516.4)"/>
<text x="464.6" y="565.6" font-family="'Liberation Sans','Noto Sans CJK SC',sans-serif" font-size="21.3" fill="#000" stroke="#000" stroke-width="0.22" xml:space="preserve"><tspan font-family="'DejaVu Serif','Liberation Serif',serif" font-style="italic" font-size="17.4" stroke="none" dx="0">ε</tspan><tspan font-family="'DejaVu Serif','Liberation Serif',serif" font-style="italic" font-size="15.5" stroke="none" dx="0.4" dy="4.2">x</tspan><tspan dy="-4.2" dx="0.6"> = </tspan><tspan font-family="'DejaVu Serif','Liberation Serif',serif" font-style="italic" font-size="17.4" stroke="none" dx="0.6">ε</tspan><tspan font-family="'DejaVu Serif','Liberation Serif',serif" font-style="italic" font-size="15.5" stroke="none" dx="0.4" dy="4.2">y</tspan><tspan dy="-4.2" dx="0.4"> = <tspan dx="1.8">100%</tspan></tspan></text>
<g filter="url(#soft)"><g transform="rotate(2 116 484.4)"><ellipse cx="116" cy="484.4" rx="76.5" ry="56.0" fill="url(#gbgL)"/><ellipse cx="116" cy="484.4" rx="76.5" ry="56.0" fill="url(#gfade)"/></g></g>
<g>
<ellipse cx="115.3" cy="496.60" rx="76.0" ry="32.5" fill="#9fd2f5" fill-opacity="0.55" filter="url(#b2)" transform="rotate(1.80 115.3 495.40)"/>
<ellipse cx="115.3" cy="495.40" rx="75.5" ry="32" fill="#5cace8" transform="rotate(1.80 115.3 495.40)"/>
<ellipse cx="115.3" cy="494.62" rx="75.5" ry="32" fill="#62b1eb" transform="rotate(1.80 115.3 494.62)"/>
<ellipse cx="115.3" cy="493.84" rx="75.5" ry="32" fill="#66b5ed" transform="rotate(1.80 115.3 493.84)"/>
<ellipse cx="115.3" cy="493.06" rx="75.5" ry="32" fill="#69b8ef" transform="rotate(1.80 115.3 493.06)"/>
<ellipse cx="115.3" cy="492.28" rx="75.5" ry="32" fill="#6dbcf0" transform="rotate(1.80 115.3 492.28)"/>
<ellipse cx="115.3" cy="491.50" rx="75.5" ry="32" fill="#70bff2" transform="rotate(1.80 115.3 491.50)"/>
<ellipse cx="115.3" cy="490.72" rx="75.5" ry="32" fill="#73c2f4" transform="rotate(1.80 115.3 490.72)"/>
<ellipse cx="115.3" cy="489.94" rx="75.5" ry="32" fill="#76c5f5" transform="rotate(1.80 115.3 489.94)"/>
<ellipse cx="115.3" cy="489.16" rx="75.5" ry="32" fill="#79c7f7" transform="rotate(1.80 115.3 489.16)"/>
<ellipse cx="115.3" cy="488.38" rx="75.5" ry="32" fill="#7ccaf8" transform="rotate(1.80 115.3 488.38)"/>
<polygon points="39.8,485.2 39.8,493.0 40.0,495.8 40.8,498.6 42.1,501.4 44.0,504.1 46.5,506.8 49.4,509.3 52.9,511.8 56.8,514.1 61.2,516.3 66.0,518.4 71.2,520.2 76.7,521.9 82.5,523.4 88.5,524.6 94.8,525.7 101.2,526.5 107.7,527.1 114.3,527.4 120.9,527.5 127.4,527.3 133.9,526.9 140.2,526.3 146.3,525.4 152.2,524.3 157.8,523.0 163.0,521.4 167.9,519.7 172.5,517.8 176.5,515.7 180.2,513.4 183.3,511.1 185.9,508.6 187.9,506.0 189.4,503.3 190.4,500.6 190.8,497.8 190.8,490.0" fill="url(#sideshade)"/>
<ellipse cx="115.3" cy="487.6" rx="75.5" ry="32" fill="url(#top3)" transform="rotate(1.8 115.3 487.6)"/>
</g>
<polygon points="117.1,456.0 117.1,447.5 120.3,447.5 115.6,439.0 110.8,447.5 114.1,447.5 114.1,456.0" fill="#93958a" />
<polygon points="114.1,526.0 114.1,536.5 110.8,536.5 115.6,545.0 120.3,536.5 117.1,536.5 117.1,526.0" fill="#93958a" />
<polygon points="41.0,487.7 31.5,487.7 31.5,484.4 23.0,489.2 31.5,493.9 31.5,490.7 41.0,490.7" fill="#93958a" />
<polygon points="191.5,490.1 201.1,490.1 201.1,493.4 209.6,488.6 201.1,483.9 201.1,487.1 191.5,487.1" fill="#93958a" />
<polygon points="70.4,460.5 60.6,453.9 62.4,451.2 52.7,450.4 57.1,459.1 58.9,456.4 68.8,462.9" fill="#93958a" />
<polygon points="165.5,465.9 178.3,459.3 179.8,462.1 185.2,454.0 175.5,453.7 177.0,456.6 164.1,463.3" fill="#93958a" />
<polygon points="69.5,519.4 60.7,526.3 58.7,523.8 55.0,532.8 64.6,531.2 62.6,528.7 71.3,521.8" fill="#93958a" />
<polygon points="164.6,520.1 177.1,528.2 175.3,530.9 185.0,531.6 180.5,523.0 178.7,525.7 166.2,517.5" fill="#93958a" />
<path d="M87,463 Q100,480 117,496" stroke="#4a8fd0" stroke-opacity="0.55" stroke-width="10" fill="none" stroke-linecap="round" filter="url(#b2)"/>
<path d="M121,470 Q134,477 147,481" stroke="#4a8fd0" stroke-opacity="0.4" stroke-width="6" fill="none" stroke-linecap="round" filter="url(#b2)"/>
<path d="M100.6,457.6 Q102,452 112,451.6 Q136,452 157,461.6" fill="none" stroke="#a59c84" stroke-width="2.2" stroke-linecap="round" stroke-linejoin="round" />
<path d="M85,449.8 L88.8,447.2 L125,477.6 L122.4,480.4 Z" fill="#9f9784"/>
<ellipse cx="125.2" cy="479.4" rx="7.8" ry="2.8" fill="#9a927e" transform="rotate(-3 125.2 479.4)"/>
<polygon points="145.0,461.7 145.0,474.6 142.0,474.6 147.0,483.6 152.0,474.6 149.0,474.6 149.0,461.7" fill="#f7b21c" filter="url(#b05)"/>
<polygon points="124.2,481.6 124.2,495.4 121.2,495.4 126.2,504.4 131.2,495.4 128.2,495.4 128.2,481.6" fill="#f7b21c" filter="url(#b05)"/>
<path d="M105,458.8 L232,460.2 M163.3,488 L232,488 M163.3,488 L147.5,462.5 M163.3,488 L126,480 M151.4,516.6 L232,516.6" stroke="#000" stroke-width="1" fill="none"/>
<text x="238.2" y="474" font-family="'Liberation Sans','Noto Sans CJK SC',sans-serif" font-size="20.6" fill="#000"><tspan font-size="23" textLength="20.2" lengthAdjust="spacingAndGlyphs">2D</tspan><tspan letter-spacing="-0.6" dx="1.4">前驱体</tspan></text>
<text x="238.2" y="503.8" font-family="'Liberation Sans','Noto Sans CJK SC',sans-serif" font-size="20.6" letter-spacing="0.5" fill="#000">选择性粘接点</text>
<text x="238.2" y="532.2" font-family="'Liberation Sans','Noto Sans CJK SC',sans-serif" font-size="20.6" letter-spacing="0.8" fill="#000">预拉伸基底</text>
<text x="104.6" y="565.4" font-family="'DejaVu Serif','Liberation Serif',serif" font-style="italic" font-size="17.6" fill="#000">ε<tspan font-size="13.4" dy="3.8" dx="0.3" letter-spacing="0.4">pre</tspan></text>
<polygon points="221.3,263.2 225.7,272.0 226.9,270.2 241.6,280.4 240.5,282.2 250.2,283.2 245.8,274.4 244.6,276.2 229.9,266.0 231.0,264.2" fill="#7030a0"/>
<polygon points="420.5,387.0 425.0,395.7 426.2,394.0 438.5,402.3 437.3,404.1 447.1,405.0 442.6,396.3 441.4,398.0 429.1,389.7 430.3,387.9" fill="#7030a0"/>
<polygon points="540.4,195.0 535.2,203.6 537.7,203.6 537.7,211.7 535.2,211.7 540.4,220.3 545.6,211.7 543.1,211.7 543.1,203.6 545.6,203.6" fill="#1fa6e0"/>
<polygon points="540.5,367.5 535.3,376.1 537.8,376.1 537.8,387.7 535.3,387.7 540.5,396.3 545.7,387.7 543.2,387.7 543.2,376.1 545.7,376.1" fill="#1fa6e0"/>
<polygon points="835.0,282.7 844.8,281.8 843.6,280.1 858.6,270.0 859.8,271.8 864.3,263.1 854.5,264.0 855.7,265.7 840.7,275.8 839.5,274.0" fill="#f01616"/>
<polygon points="627.6,410.6 637.4,409.7 636.2,407.9 648.7,399.5 649.9,401.2 654.4,392.5 644.6,393.4 645.8,395.2 633.3,403.6 632.1,401.9" fill="#f01616"/>
<text x="417.6" y="431" font-family="'Liberation Sans','Noto Sans CJK SC',sans-serif" font-size="21.3" fill="#000" xml:space="preserve"><tspan font-family="'DejaVu Serif','Liberation Serif',serif" font-style="italic" font-size="19.5">φ</tspan><tspan dx="1.2"> = 135</tspan><tspan dx="0.6">°</tspan></text>
<text x="511" y="417.6" font-family="'Liberation Sans','Noto Sans CJK SC',sans-serif" font-size="21.3" fill="#000" xml:space="preserve"><tspan font-family="'DejaVu Serif','Liberation Serif',serif" font-style="italic" font-size="19.5">φ</tspan><tspan dx="1.2"> = 90</tspan><tspan dx="0.6">°</tspan></text>
<text x="588.8" y="431" font-family="'Liberation Sans','Noto Sans CJK SC',sans-serif" font-size="21.3" fill="#000" xml:space="preserve"><tspan font-family="'DejaVu Serif','Liberation Serif',serif" font-style="italic" font-size="19.5">φ</tspan><tspan dx="1.2"> = 45</tspan><tspan dx="0.6">°</tspan></text>
<line x1="643.8" y1="550.6" x2="631.1" y2="530.9" stroke="#000" stroke-width="1.1"/>
<polygon points="629.2,527.9 634.5,531.6 630.3,534.3" fill="#000"/>
<line x1="643.8" y1="550.6" x2="643.8" y2="523" stroke="#000" stroke-width="1.1"/>
<line x1="643.8" y1="550.6" x2="668.0" y2="539.4" stroke="#000" stroke-width="1.1"/>
<polygon points="671.3,537.9 666.9,542.7 664.8,538.1" fill="#000"/>
<line x1="643.8" y1="550.6" x2="652.5" y2="520.8" stroke="#d81414" stroke-width="1.1"/>
<polygon points="653.5,517.3 654.2,523.8 649.4,522.4" fill="#d81414"/>
<line x1="665.7" y1="538.5" x2="655.0" y2="530.4" stroke="#000" stroke-width="1.2"/>
<polygon points="652.4,528.4 658.3,529.7 655.3,533.7" fill="#000"/>
<text x="619.6" y="534" font-family="'Liberation Sans','Noto Sans CJK SC',sans-serif" font-style="italic" font-size="19.5" fill="#000">y</text>
<text x="641" y="524.6" font-family="'Liberation Sans','Noto Sans CJK SC',sans-serif" font-style="italic" font-weight="bold" font-size="18.5" fill="#000">z</text>
<text x="663" y="537" font-family="'DejaVu Serif','Liberation Serif',serif" font-style="italic" font-size="18" fill="#000">φ</text>
<text x="678.6" y="543" font-family="'Liberation Sans','Noto Sans CJK SC',sans-serif" font-style="italic" font-size="20.5" fill="#000">x</text>
<path d="M795,540 A107,107 0 0 1 1009,540 Z" fill="#ffff00"/>
<path d="M902,540 L942.1,440.8 A107,107 0 0 0 861.9,440.8 Z" fill="#00fa05"/>
<path d="M795,540 A107,107 0 0 1 1009,540 Z" fill="none" stroke="#000" stroke-width="2.5" stroke-linejoin="miter"/>
<line x1="1000.9" y1="499.1" x2="997.6" y2="500.4" stroke="#000" stroke-width="1.2"/>
<line x1="977.7" y1="464.3" x2="975.2" y2="466.8" stroke="#000" stroke-width="1.2"/>
<line x1="942.9" y1="441.1" x2="941.6" y2="444.4" stroke="#000" stroke-width="1.2"/>
<line x1="902.0" y1="433.0" x2="902.0" y2="436.5" stroke="#000" stroke-width="1.2"/>
<line x1="861.1" y1="441.1" x2="862.4" y2="444.4" stroke="#000" stroke-width="1.2"/>
<line x1="826.3" y1="464.3" x2="828.8" y2="466.8" stroke="#000" stroke-width="1.2"/>
<line x1="803.1" y1="499.1" x2="806.4" y2="500.4" stroke="#000" stroke-width="1.2"/>
<polygon points="903.3,538.7 837.2,472.6 839.4,470.3 828.5,466.5 832.3,477.4 834.6,475.2 900.7,541.3" fill="#7a3f6a" />
<polygon points="903.8,540.0 903.8,446.5 906.8,446.5 902.0,436.0 897.2,446.5 900.2,446.5 900.2,540.0" fill="#16b4b8" />
<polygon points="903.6,541.6 969.7,475.4 971.8,477.6 975.5,466.5 964.4,470.2 966.6,472.3 900.4,538.4" fill="#e01a10" />
<circle cx="902" cy="540" r="6.2" fill="#f01414"/>
<text x="886.6" y="427" font-family="'Liberation Sans','Noto Sans CJK SC',sans-serif" font-size="19.4" fill="#000">90<tspan dx="0.8">°</tspan></text>
<text x="792.6" y="459" font-family="'Liberation Sans','Noto Sans CJK SC',sans-serif" font-size="19.4" fill="#000">135<tspan dx="0.8">°</tspan></text>
<text x="972.6" y="460" font-family="'Liberation Sans','Noto Sans CJK SC',sans-serif" font-size="19.4" fill="#000">45<tspan dx="0.8">°</tspan></text>
<text x="750.6" y="545" font-family="'Liberation Sans','Noto Sans CJK SC',sans-serif" font-size="19.4" fill="#000">180<tspan dx="0.8">°</tspan></text>
<text x="1018.6" y="545" font-family="'Liberation Sans','Noto Sans CJK SC',sans-serif" font-size="19.4" fill="#000">0<tspan dx="0.8">°</tspan></text>
<text x="768.4" y="573.4" font-family="'Liberation Sans','Noto Sans CJK SC',sans-serif" font-size="21" letter-spacing="0.4" fill="#000">关于加载角<tspan textLength="8.6" lengthAdjust="spacingAndGlyphs" dx="1" letter-spacing="0">-</tspan><tspan dx="1.2">模态分布的相图</tspan></text>
</svg>
</body>
</html>
